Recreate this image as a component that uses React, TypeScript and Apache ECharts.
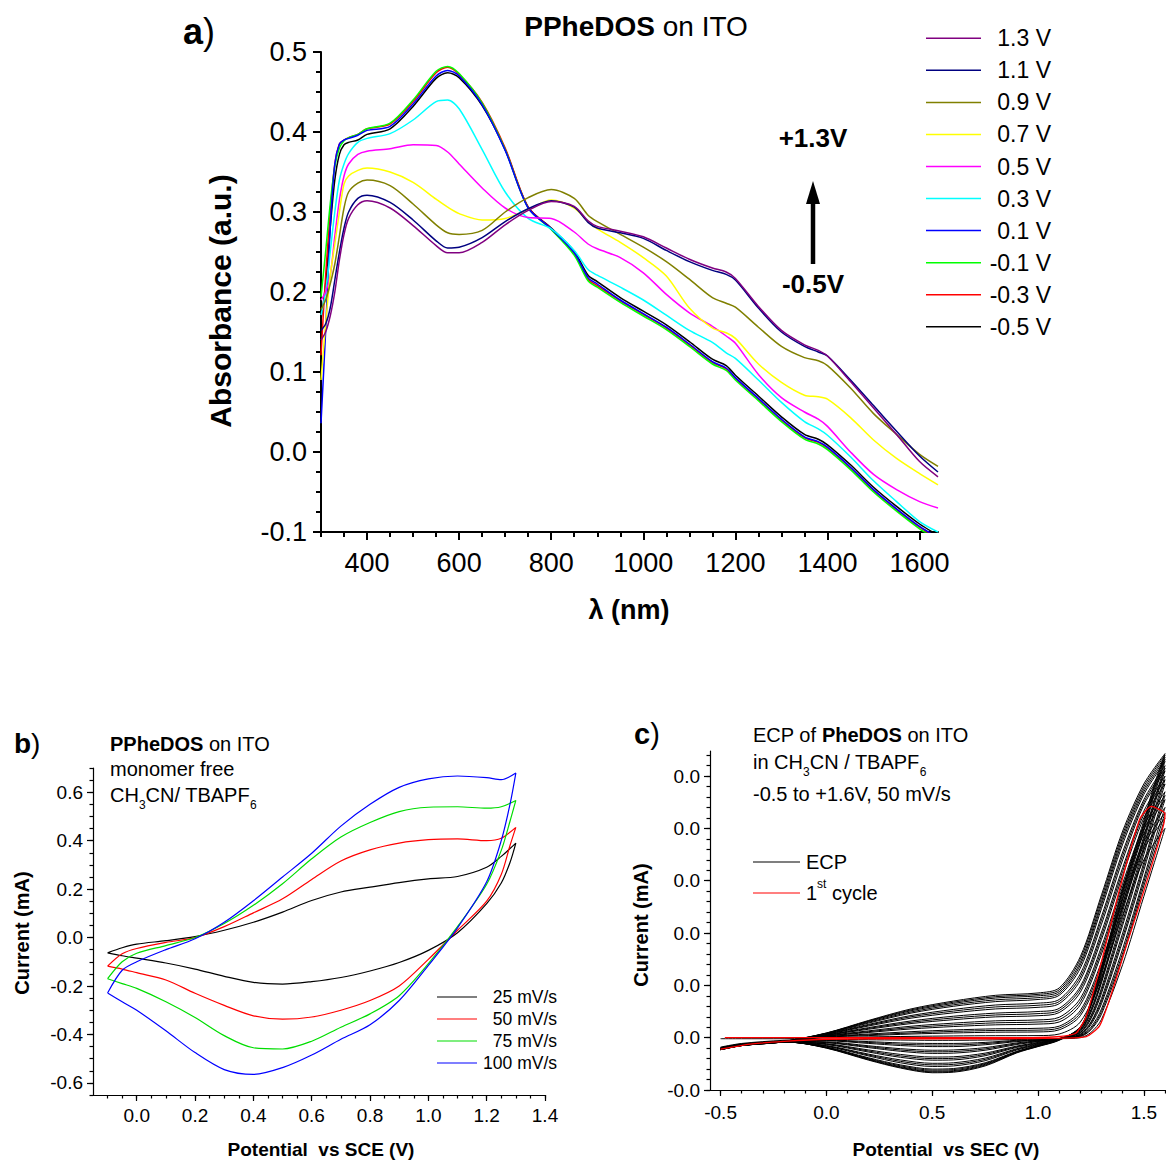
import { useEffect, useRef } from 'react';
import * as echarts from 'echarts';

const FONT = 'Liberation Sans';

// ---------- Panel a : absorbance spectra ----------
const WAVELENGTH = [300, 310, 320, 330, 340, 350, 360, 380, 400, 450, 500, 550, 575, 600, 650, 700, 750, 800, 850, 880, 900, 950, 1000, 1050, 1100, 1150, 1180, 1200, 1250, 1300, 1350, 1380, 1400, 1450, 1500, 1550, 1600, 1640];
const ABS_P13 = [0.14, 0.15, 0.17, 0.2, 0.24, 0.272, 0.292, 0.309, 0.314, 0.305, 0.283, 0.258, 0.249, 0.249, 0.262, 0.284, 0.302, 0.313, 0.307, 0.289, 0.282, 0.276, 0.269, 0.255, 0.241, 0.23, 0.225, 0.217, 0.182, 0.152, 0.134, 0.127, 0.12, 0.088, 0.055, 0.022, -0.012, -0.031];
const ABS_P11 = [0.152, 0.16, 0.18, 0.215, 0.25, 0.28, 0.3, 0.317, 0.321, 0.312, 0.29, 0.264, 0.255, 0.256, 0.268, 0.288, 0.304, 0.314, 0.306, 0.287, 0.28, 0.274, 0.267, 0.252, 0.238, 0.227, 0.222, 0.215, 0.18, 0.15, 0.132, 0.125, 0.12, 0.09, 0.058, 0.026, -0.005, -0.025];
const ABS_P09 = [0.178, 0.19, 0.21, 0.235, 0.27, 0.305, 0.325, 0.336, 0.34, 0.333, 0.31, 0.284, 0.274, 0.272, 0.277, 0.3, 0.318, 0.328, 0.317, 0.296, 0.288, 0.272, 0.256, 0.238, 0.216, 0.193, 0.186, 0.181, 0.156, 0.132, 0.118, 0.114, 0.108, 0.08, 0.048, 0.022, -0.003, -0.018];
const ABS_P07 = [0.09, 0.16, 0.22, 0.26, 0.3, 0.335, 0.345, 0.352, 0.355, 0.35, 0.337, 0.316, 0.306, 0.298, 0.29, 0.292, 0.303, 0.315, 0.305, 0.288, 0.279, 0.262, 0.243, 0.22, 0.18, 0.155, 0.149, 0.142, 0.11, 0.087, 0.071, 0.069, 0.066, 0.043, 0.015, -0.008, -0.027, -0.041];
const ABS_P05 = [0.19, 0.2, 0.22, 0.27, 0.315, 0.345, 0.36, 0.372, 0.376, 0.379, 0.384, 0.383, 0.375, 0.36, 0.33, 0.305, 0.293, 0.292, 0.275, 0.26, 0.254, 0.243, 0.224, 0.197, 0.174, 0.157, 0.145, 0.136, 0.097, 0.068, 0.05, 0.041, 0.032, 0.0, -0.028, -0.047, -0.062, -0.07];
const ABS_P03 = [0.171, 0.2, 0.25, 0.3, 0.34, 0.36, 0.373, 0.387, 0.392, 0.398, 0.415, 0.438, 0.44, 0.429, 0.378, 0.325, 0.292, 0.279, 0.252, 0.228, 0.221, 0.206, 0.19, 0.171, 0.152, 0.137, 0.124, 0.117, 0.09, 0.062, 0.038, 0.029, 0.021, -0.006, -0.036, -0.062, -0.087, -0.1];
const ABS_P01 = [0.036, 0.15, 0.28, 0.36, 0.385, 0.39, 0.392, 0.396, 0.402, 0.407, 0.435, 0.47, 0.477, 0.47, 0.434, 0.377, 0.305, 0.279, 0.249, 0.218, 0.21, 0.19, 0.173, 0.156, 0.135, 0.113, 0.105, 0.093, 0.067, 0.041, 0.019, 0.013, 0.006, -0.019, -0.047, -0.071, -0.093, -0.107];
const ABS_M01 = [0.194, 0.25, 0.31, 0.357, 0.38, 0.389, 0.393, 0.397, 0.404, 0.411, 0.44, 0.476, 0.482, 0.473, 0.436, 0.378, 0.305, 0.278, 0.246, 0.214, 0.206, 0.187, 0.17, 0.153, 0.132, 0.11, 0.102, 0.09, 0.064, 0.038, 0.016, 0.01, 0.003, -0.022, -0.05, -0.074, -0.096, -0.11];
const ABS_M03 = [0.121, 0.22, 0.3, 0.36, 0.385, 0.39, 0.393, 0.397, 0.404, 0.41, 0.438, 0.474, 0.481, 0.472, 0.437, 0.38, 0.306, 0.279, 0.248, 0.216, 0.208, 0.189, 0.172, 0.155, 0.134, 0.112, 0.104, 0.092, 0.066, 0.04, 0.018, 0.012, 0.005, -0.02, -0.048, -0.072, -0.094, -0.108];
const ABS_M05 = [0.165, 0.21, 0.28, 0.34, 0.372, 0.384, 0.387, 0.39, 0.397, 0.404, 0.432, 0.467, 0.474, 0.468, 0.433, 0.378, 0.306, 0.28, 0.251, 0.221, 0.213, 0.193, 0.176, 0.159, 0.138, 0.116, 0.108, 0.096, 0.07, 0.044, 0.022, 0.016, 0.009, -0.016, -0.044, -0.068, -0.09, -0.104];
const ABS_LABELS = ['1.3 V', '1.1 V', '0.9 V', '0.7 V', '0.5 V', '0.3 V', '0.1 V', '-0.1 V', '-0.3 V', '-0.5 V'];
const ABS_SERIES = [ABS_P13, ABS_P11, ABS_P09, ABS_P07, ABS_P05, ABS_P03, ABS_P01, ABS_M01, ABS_M03, ABS_M05];
const ABS_COLORS = ['#800080', '#000080', '#808000', '#ffff00', '#ff00ff', '#00ffff', '#0000ff', '#00ff00', '#ff0000', '#000000'];
const A_X_TICKS = [400, 600, 800, 1000, 1200, 1400, 1600];
const A_Y_TICKS = [-0.1, 0.0, 0.1, 0.2, 0.3, 0.4, 0.5];

// ---------- Panel b : CV at several scan rates ----------
const CV_X_FWD = [-0.1, -0.05, 0.0, 0.1, 0.2, 0.3, 0.4, 0.5, 0.6, 0.7, 0.8, 0.9, 1.0, 1.1, 1.2, 1.25, 1.3];
const CV_X_REV = [1.28, 1.25, 1.2, 1.1, 1.0, 0.9, 0.8, 0.7, 0.6, 0.5, 0.4, 0.3, 0.2, 0.1, 0.0, -0.05, -0.1];
const CV_25 = [-0.063, -0.042, -0.027, -0.013, 0.004, 0.03, 0.063, 0.105, 0.153, 0.188, 0.208, 0.227, 0.242, 0.252, 0.29, 0.335, 0.39,
  0.31, 0.225, 0.14, 0.02, -0.053, -0.103, -0.138, -0.165, -0.182, -0.192, -0.185, -0.16, -0.13, -0.105, -0.085, -0.075, -0.063];
const CV_50 = [-0.118, -0.067, -0.045, -0.02, 0.0, 0.045, 0.102, 0.16, 0.24, 0.316, 0.362, 0.39, 0.404, 0.407, 0.4, 0.41, 0.455,
  0.38, 0.26, 0.15, 0.03, -0.09, -0.2, -0.26, -0.3, -0.328, -0.337, -0.323, -0.28, -0.23, -0.175, -0.145, -0.13, -0.118];
const CV_75 = [-0.17, -0.1, -0.065, -0.033, 0.0, 0.058, 0.133, 0.222, 0.325, 0.415, 0.475, 0.52, 0.538, 0.54, 0.534, 0.54, 0.566,
  0.48, 0.36, 0.22, 0.045, -0.108, -0.24, -0.315, -0.37, -0.428, -0.46, -0.455, -0.405, -0.33, -0.265, -0.21, -0.19, -0.17];
const CV_100 = [-0.229, -0.135, -0.1, -0.05, -0.005, 0.063, 0.152, 0.25, 0.348, 0.46, 0.55, 0.62, 0.655, 0.667, 0.66, 0.652, 0.679,
  0.55, 0.4, 0.23, 0.04, -0.115, -0.26, -0.36, -0.42, -0.485, -0.537, -0.565, -0.545, -0.475, -0.385, -0.3, -0.265, -0.229];
const CV_LABELS = ['25 mV/s', '50 mV/s', '75 mV/s', '100 mV/s'];
const CV_SERIES = [CV_25, CV_50, CV_75, CV_100];
const CV_COLORS = ['#000000', '#ff0000', '#00dd00', '#0000ff'];
const B_X_TICKS = [0.0, 0.2, 0.4, 0.6, 0.8, 1.0, 1.2, 1.4];
const B_Y_TICKS = [-0.6, -0.4, -0.2, 0.0, 0.2, 0.4, 0.6];

// ---------- Panel c : electropolymerisation cycles (current in 0.002 mA units) ----------
const ECP_X_FWD = [-0.5, -0.4, -0.2, 0.0, 0.2, 0.4, 0.6, 0.8, 1.0, 1.1, 1.2, 1.3, 1.4, 1.5, 1.6];
const ECP_X_REV = [1.55, 1.5, 1.4, 1.3, 1.25, 1.2, 1.1, 1.0, 0.9, 0.75, 0.6, 0.5, 0.35, 0.2, 0.0, -0.2, -0.4, -0.5];
const ECP_CYCLES = [
  [-0.02, -0.02, -0.02, 0.0, 0.015, 0.025, 0.033, 0.038, 0.04, 0.07, 0.3, 1.15, 2.35, 3.4, 4.0, 3.35, 2.7, 1.4, 0.35, 0.1, 0.0, -0.02, -0.03, -0.035, -0.045, -0.05, -0.05, -0.045, -0.04, -0.03, -0.05, -0.11, -0.18],
  [-0.19, -0.12, -0.07, 0.01, 0.04, 0.07, 0.09, 0.105, 0.11, 0.15, 0.42, 1.3, 2.5, 3.6, 4.2, 3.55, 2.9, 1.55, 0.45, 0.15, 0.02, -0.02, -0.04, -0.05, -0.09, -0.11, -0.11, -0.1, -0.075, -0.045, -0.07, -0.13, -0.2],
  [-0.2, -0.125, -0.07, 0.015, 0.055, 0.09, 0.12, 0.138, 0.145, 0.185, 0.47, 1.38, 2.58, 3.68, 4.3, 3.65, 2.98, 1.62, 0.5, 0.17, 0.03, -0.02, -0.045, -0.062, -0.112, -0.14, -0.14, -0.125, -0.092, -0.052, -0.07, -0.13, -0.2],
  [-0.2, -0.13, -0.07, 0.02, 0.07, 0.115, 0.148, 0.17, 0.18, 0.22, 0.52, 1.45, 2.65, 3.75, 4.4, 3.75, 3.05, 1.7, 0.55, 0.2, 0.04, -0.02, -0.05, -0.075, -0.135, -0.17, -0.17, -0.15, -0.11, -0.06, -0.07, -0.13, -0.21],
  [-0.21, -0.13, -0.07, 0.027, 0.1, 0.167, 0.213, 0.246, 0.26, 0.3, 0.63, 1.6, 2.8, 3.9, 4.55, 3.9, 3.2, 1.85, 0.65, 0.25, 0.05, -0.02, -0.06, -0.1, -0.19, -0.235, -0.24, -0.21, -0.155, -0.08, -0.075, -0.14, -0.21],
  [-0.21, -0.135, -0.072, 0.031, 0.115, 0.193, 0.245, 0.284, 0.3, 0.345, 0.69, 1.67, 2.88, 3.98, 4.63, 3.98, 3.28, 1.92, 0.7, 0.28, 0.06, -0.02, -0.068, -0.115, -0.215, -0.265, -0.27, -0.235, -0.172, -0.088, -0.075, -0.14, -0.215],
  [-0.21, -0.14, -0.075, 0.036, 0.131, 0.219, 0.278, 0.322, 0.34, 0.39, 0.75, 1.74, 2.95, 4.05, 4.7, 4.05, 3.35, 2.0, 0.75, 0.3, 0.07, -0.02, -0.075, -0.13, -0.24, -0.295, -0.3, -0.26, -0.19, -0.095, -0.075, -0.14, -0.22],
  [-0.22, -0.14, -0.075, 0.044, 0.162, 0.27, 0.344, 0.398, 0.42, 0.48, 0.87, 1.88, 3.1, 4.2, 4.85, 4.2, 3.5, 2.15, 0.85, 0.36, 0.09, -0.02, -0.09, -0.16, -0.295, -0.365, -0.37, -0.32, -0.235, -0.115, -0.08, -0.14, -0.22],
  [-0.22, -0.145, -0.078, 0.048, 0.178, 0.295, 0.377, 0.434, 0.46, 0.52, 0.93, 1.95, 3.18, 4.27, 4.93, 4.28, 3.58, 2.22, 0.9, 0.39, 0.1, -0.02, -0.1, -0.172, -0.32, -0.395, -0.4, -0.348, -0.255, -0.122, -0.08, -0.145, -0.225],
  [-0.22, -0.15, -0.08, 0.052, 0.193, 0.32, 0.41, 0.47, 0.5, 0.56, 0.98, 2.02, 3.25, 4.33, 5.0, 4.35, 3.65, 2.3, 0.95, 0.42, 0.11, -0.02, -0.11, -0.185, -0.345, -0.425, -0.43, -0.375, -0.275, -0.13, -0.08, -0.15, -0.23],
  [-0.23, -0.15, -0.08, 0.06, 0.224, 0.373, 0.475, 0.55, 0.58, 0.65, 1.1, 2.17, 3.4, 4.45, 5.1, 4.45, 3.75, 2.42, 1.05, 0.48, 0.13, -0.02, -0.12, -0.21, -0.39, -0.48, -0.49, -0.425, -0.315, -0.15, -0.08, -0.15, -0.23],
  [-0.23, -0.15, -0.08, 0.065, 0.24, 0.4, 0.508, 0.588, 0.62, 0.69, 1.16, 2.25, 3.48, 4.5, 5.15, 4.5, 3.8, 2.48, 1.08, 0.51, 0.14, -0.02, -0.13, -0.222, -0.415, -0.51, -0.52, -0.452, -0.332, -0.158, -0.08, -0.15, -0.225],
  [-0.23, -0.15, -0.08, 0.07, 0.255, 0.424, 0.54, 0.625, 0.66, 0.73, 1.22, 2.32, 3.55, 4.55, 5.2, 4.55, 3.85, 2.55, 1.12, 0.54, 0.15, -0.02, -0.14, -0.235, -0.44, -0.54, -0.55, -0.48, -0.35, -0.165, -0.08, -0.15, -0.22],
  [-0.22, -0.15, -0.08, 0.077, 0.28, 0.47, 0.6, 0.69, 0.73, 0.81, 1.33, 2.47, 3.7, 4.65, 5.28, 4.65, 3.95, 2.65, 1.2, 0.6, 0.17, -0.03, -0.15, -0.26, -0.48, -0.59, -0.6, -0.52, -0.385, -0.18, -0.08, -0.14, -0.22],
  [-0.22, -0.145, -0.075, 0.08, 0.295, 0.492, 0.628, 0.724, 0.765, 0.845, 1.39, 2.54, 3.77, 4.7, 5.32, 4.7, 4.0, 2.7, 1.24, 0.62, 0.18, -0.035, -0.155, -0.268, -0.495, -0.61, -0.62, -0.538, -0.398, -0.185, -0.08, -0.14, -0.215],
  [-0.22, -0.14, -0.07, 0.084, 0.31, 0.515, 0.655, 0.758, 0.8, 0.88, 1.44, 2.6, 3.83, 4.75, 5.36, 4.75, 4.05, 2.75, 1.28, 0.65, 0.19, -0.04, -0.16, -0.275, -0.51, -0.63, -0.64, -0.555, -0.41, -0.19, -0.08, -0.14, -0.21],
  [-0.215, -0.14, -0.07, 0.087, 0.32, 0.532, 0.678, 0.784, 0.828, 0.915, 1.5, 2.67, 3.89, 4.8, 5.4, 4.8, 4.1, 2.8, 1.32, 0.68, 0.2, -0.045, -0.165, -0.282, -0.525, -0.645, -0.655, -0.568, -0.42, -0.195, -0.075, -0.135, -0.205],
  [-0.21, -0.14, -0.07, 0.09, 0.33, 0.55, 0.7, 0.81, 0.855, 0.95, 1.55, 2.73, 3.95, 4.85, 5.43, 4.85, 4.15, 2.85, 1.35, 0.7, 0.21, -0.05, -0.17, -0.29, -0.54, -0.66, -0.67, -0.58, -0.43, -0.2, -0.07, -0.13, -0.2],
];
const FIRST_CYCLE_X = [-0.48, -0.3, 0.0, 0.3, 0.6, 0.9, 1.05, 1.12, 1.18, 1.228, 1.306, 1.385, 1.48, 1.535, 1.6, 1.595, 1.574, 1.512, 1.417, 1.338, 1.29, 1.228, 1.1, 0.8, 0.4, 0.0, -0.2, -0.35, -0.5];
const FIRST_CYCLE_Y = [0.0, 0.0, 0.0, 0.0, 0.0, 0.0, 0.01, 0.03, 0.09, 0.41, 1.55, 2.83, 4.17, 4.42, 4.28, 4.1, 3.79, 2.96, 1.75, 0.73, 0.22, 0.02, -0.01, -0.02, -0.02, -0.03, -0.07, -0.12, -0.22];
const C_UNIT_MA = 0.002;
const C_X_TICKS = [-0.5, 0.0, 0.5, 1.0, 1.5];
const C_Y_TICKS = [-1, 0, 1, 2, 3, 4, 5];

function range(a: number, b: number, step: number): number[] {
  const out: number[] = [];
  const n = Math.round((b - a) / step);
  for (let i = 0; i <= n; i++) out.push(+(a + i * step).toFixed(6));
  return out;
}

let measureCtx: CanvasRenderingContext2D | null = null;
function textWidth(t: string, size: number, bold: boolean): number {
  if (!measureCtx) measureCtx = document.createElement('canvas').getContext('2d');
  if (!measureCtx) return t.length * size * 0.55;
  measureCtx.font = `${bold ? 'bold ' : ''}${size}px "${FONT}"`;
  return measureCtx.measureText(t).width;
}

type Part = { t: string; s: number; b?: boolean; dy?: number };
function textRun(x: number, y: number, parts: Part[], align: 'left' | 'center' | 'right' = 'left'): any[] {
  const widths = parts.map((p) => textWidth(p.t, p.s, !!p.b));
  const total = widths.reduce((a, b) => a + b, 0);
  let cx = align === 'left' ? x : align === 'center' ? x - total / 2 : x - total;
  const els: any[] = [];
  parts.forEach((p, i) => {
    const trimmed = p.t.replace(/^\s+/, '');
    const lead = p.t.length - trimmed.length;
    const leadW = lead ? textWidth(p.t.slice(0, lead), p.s, !!p.b) : 0;
    els.push({
      type: 'text', x: cx + leadW, y: y + (p.dy || 0), silent: true,
      style: { text: trimmed, fontSize: p.s, fontFamily: FONT, fontWeight: p.b ? 'bold' : 'normal', fill: '#000', align: 'left', verticalAlign: 'middle' },
    });
    cx += widths[i];
  });
  return els;
}

function vText(x: number, y: number, text: string, size: number): any {
  return {
    type: 'text', x, y, rotation: Math.PI / 2, silent: true,
    style: { text, fontSize: size, fontFamily: FONT, fontWeight: 'bold', fill: '#000', align: 'center', verticalAlign: 'middle' },
  };
}

function mainAxis(dim: 'x' | 'y', gridIndex: number, min: number, max: number, majors: number[], fmt: (v: number) => string,
  fontSize: number, margin: number, lineW: number, tickLen: number): any {
  return {
    type: 'value', gridIndex, min, max,
    position: dim === 'x' ? 'bottom' : 'left',
    axisLine: { show: true, onZero: false, lineStyle: { color: '#000', width: lineW } },
    axisTick: { show: true, inside: false, length: tickLen, customValues: majors, lineStyle: { color: '#000', width: lineW } },
    axisLabel: { show: true, customValues: majors, formatter: fmt, fontSize, fontFamily: FONT, color: '#000', margin },
    splitLine: { show: false },
  };
}

function minorAxis(dim: 'x' | 'y', gridIndex: number, min: number, max: number, minors: number[], lineW: number, tickLen: number): any {
  return {
    type: 'value', gridIndex, min, max,
    position: dim === 'x' ? 'bottom' : 'left',
    axisLine: { show: false, onZero: false },
    axisTick: { show: true, inside: false, length: tickLen, customValues: minors, lineStyle: { color: '#000', width: lineW } },
    axisLabel: { show: false },
    splitLine: { show: false },
  };
}

export default function App() {
  const ref = useRef<HTMLDivElement>(null);
  useEffect(() => {
    document.body.style.margin = '0';
    if (!ref.current) return;
    const chart = echarts.init(ref.current, null, { renderer: 'svg' });

    const series: any[] = [];
    for (let i = ABS_SERIES.length - 1; i >= 0; i--) {
      series.push({
        type: 'line', xAxisIndex: 0, yAxisIndex: 0, symbol: 'none', smooth: 0.3, silent: true,
        lineStyle: { color: ABS_COLORS[i], width: 1.5 },
        data: WAVELENGTH.map((w, j) => [w, ABS_SERIES[i][j]]),
      });
    }
    const cvX = [...CV_X_FWD, ...CV_X_REV];
    CV_SERIES.forEach((ys, i) => {
      series.push({
        type: 'line', xAxisIndex: 2, yAxisIndex: 2, symbol: 'none', smooth: 0.3, silent: true,
        lineStyle: { color: CV_COLORS[i], width: 1.2 },
        data: cvX.map((x, j) => [x, ys[j]]),
      });
    });
    const ecpX = [...ECP_X_FWD, ...ECP_X_REV];
    ECP_CYCLES.forEach((ys) => {
      series.push({
        type: 'line', xAxisIndex: 4, yAxisIndex: 4, symbol: 'none', smooth: 0.3, silent: true,
        lineStyle: { color: '#000', width: 1 },
        data: ecpX.map((x, j) => [x, ys[j]]),
      });
    });
    series.push({
      type: 'line', xAxisIndex: 4, yAxisIndex: 4, symbol: 'none', smooth: 0.2, silent: true, z: 5,
      lineStyle: { color: '#ff0000', width: 1.3 },
      data: FIRST_CYCLE_X.map((x, j) => [x, FIRST_CYCLE_Y[j]]),
    });

    const g: any[] = [];
    // panel a
    g.push(...textRun(183, 31, [{ t: 'a', s: 36, b: true }, { t: ')', s: 36 }]));
    g.push(...textRun(636, 26, [{ t: 'PPheDOS', s: 28, b: true }, { t: ' on ITO', s: 28 }], 'center'));
    g.push(...textRun(629, 610, [{ t: 'λ (nm)', s: 27, b: true }], 'center'));
    g.push(vText(220, 301, 'Absorbance (a.u.)', 30));
    g.push(...textRun(813, 138, [{ t: '+1.3V', s: 26, b: true }], 'center'));
    g.push(...textRun(813, 284, [{ t: '-0.5V', s: 26, b: true }], 'center'));
    g.push({ type: 'line', silent: true, shape: { x1: 813, y1: 264, x2: 813, y2: 198 }, style: { stroke: '#000', lineWidth: 4.5 } });
    g.push({ type: 'polygon', silent: true, shape: { points: [[813, 181], [806, 204], [820, 204]] }, style: { fill: '#000' } });
    ABS_LABELS.forEach((lab, i) => {
      const y = 38.3 + i * 32.05;
      g.push({ type: 'line', silent: true, shape: { x1: 926, y1: y, x2: 981, y2: y }, style: { stroke: ABS_COLORS[i], lineWidth: 1.5 } });
      g.push(...textRun(1051, y, [{ t: lab, s: 23 }], 'right'));
    });
    // panel b
    g.push(...textRun(14, 743, [{ t: 'b', s: 28, b: true }, { t: ')', s: 28 }]));
    g.push(...textRun(110, 744, [{ t: 'PPheDOS', s: 20, b: true }, { t: ' on ITO', s: 20 }]));
    g.push(...textRun(110, 769, [{ t: 'monomer free', s: 20 }]));
    g.push(...textRun(110, 795, [{ t: 'CH', s: 20 }, { t: '3', s: 12, dy: 10 }, { t: 'CN/ TBAPF', s: 20 }, { t: '6', s: 12, dy: 10 }]));
    g.push(...textRun(321, 1149, [{ t: 'Potential', s: 19, b: true }, { t: '  vs SCE (V)', s: 19, b: true }], 'center'));
    g.push(vText(22, 933, 'Current (mA)', 20));
    CV_LABELS.forEach((lab, i) => {
      const y = 997 + i * 22;
      g.push({ type: 'line', silent: true, shape: { x1: 437, y1: y, x2: 477, y2: y }, style: { stroke: CV_COLORS[i], lineWidth: 1.2 } });
      g.push(...textRun(557, y, [{ t: lab, s: 17.5 }], 'right'));
    });
    // panel c
    g.push(...textRun(634, 734, [{ t: 'c', s: 29, b: true }, { t: ')', s: 29 }]));
    g.push(...textRun(753, 735, [{ t: 'ECP of ', s: 20 }, { t: 'PheDOS', s: 20, b: true }, { t: ' on ITO', s: 20 }]));
    g.push(...textRun(753, 762, [{ t: 'in CH', s: 20 }, { t: '3', s: 12, dy: 10 }, { t: 'CN / TBAPF', s: 20 }, { t: '6', s: 12, dy: 10 }]));
    g.push(...textRun(753, 794, [{ t: '-0.5 to +1.6V, 50 mV/s', s: 20 }]));
    g.push({ type: 'line', silent: true, shape: { x1: 753, y1: 862, x2: 800, y2: 862 }, style: { stroke: '#000', lineWidth: 1.2 } });
    g.push(...textRun(806, 862, [{ t: 'ECP', s: 20 }]));
    g.push({ type: 'line', silent: true, shape: { x1: 753, y1: 893, x2: 800, y2: 893 }, style: { stroke: '#ff0000', lineWidth: 1.2 } });
    g.push(...textRun(806, 893, [{ t: '1', s: 20 }, { t: 'st', s: 12, dy: -9 }, { t: ' cycle', s: 20 }]));
    g.push(...textRun(946, 1149, [{ t: 'Potential', s: 19, b: true }, { t: '  vs SEC (V)', s: 19, b: true }], 'center'));
    g.push(vText(641, 925, 'Current (mA)', 20));

    const option: any = {
      animation: false,
      grid: [
        { left: 321, top: 52, width: 617, height: 480 },
        { left: 93, top: 768, width: 452, height: 327 },
        { left: 710, top: 751, width: 455, height: 339 },
      ],
      xAxis: [
        mainAxis('x', 0, 300, 1640, A_X_TICKS, (v) => String(v), 27, 17, 2, 8),
        minorAxis('x', 0, 300, 1640, range(300, 1600, 50), 2, 5),
        mainAxis('x', 1, -0.15, 1.4, B_X_TICKS, (v) => v.toFixed(1), 19, 11, 1.2, 6),
        minorAxis('x', 1, -0.15, 1.4, range(-0.1, 1.4, 0.05), 1.2, 3.5),
        mainAxis('x', 2, -0.55, 1.6, C_X_TICKS, (v) => v.toFixed(1), 19, 13, 1.2, 6),
        minorAxis('x', 2, -0.55, 1.6, range(-0.5, 1.6, 0.1), 1.2, 3.5),
      ],
      yAxis: [
        mainAxis('y', 0, -0.1, 0.5, A_Y_TICKS, (v) => v.toFixed(1), 27, 14, 2, 8),
        minorAxis('y', 0, -0.1, 0.5, range(-0.1, 0.5, 0.025), 2, 5),
        mainAxis('y', 1, -0.65, 0.7, B_Y_TICKS, (v) => v.toFixed(1), 19, 10, 1.2, 6),
        minorAxis('y', 1, -0.65, 0.7, range(-0.65, 0.7, 0.05), 1.2, 3.5),
        mainAxis('y', 2, -1, 5.48, C_Y_TICKS, (v) => (v * C_UNIT_MA).toFixed(1), 19, 10, 1.2, 6),
        minorAxis('y', 2, -1, 5.48, range(-1, 5.4, 0.2), 1.2, 3.5),
      ],
      series,
      graphic: { elements: g },
    };
    chart.setOption(option);
    return () => chart.dispose();
  }, []);
  return <div ref={ref} style={{ width: 1166, height: 1160 }} />;
}
